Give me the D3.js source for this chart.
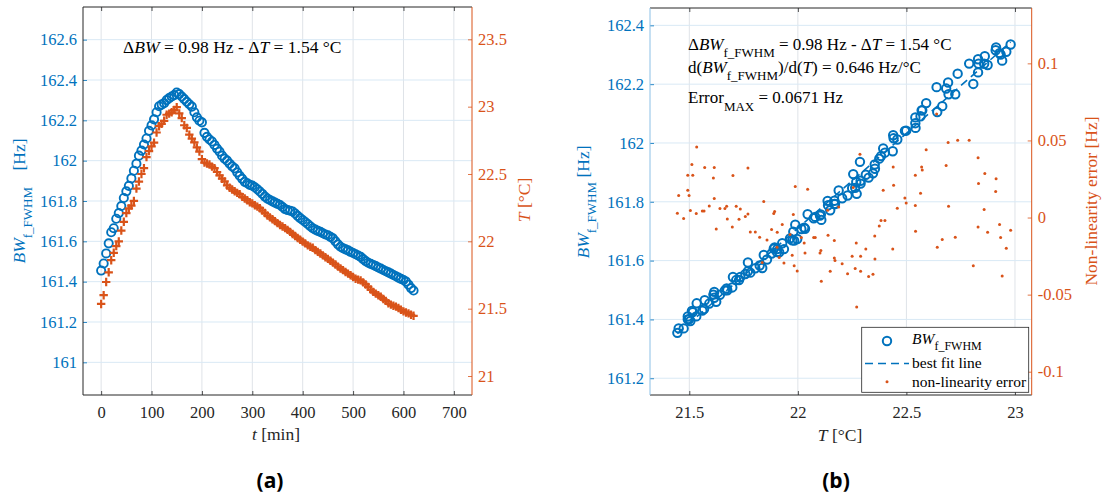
<!DOCTYPE html>
<html>
<head>
<meta charset="utf-8">
<script src="https://cdn.jsdelivr.net/npm/d3@7"></script>
<style>
  body { margin: 0; background: #fff; }
  svg { display: block; }
  text { white-space: pre; }
</style>
</head>
<body>
<svg id="fig" width="1102" height="500"></svg>
<script>
// ---------- measurement data (panel a: time series) ----------
const timeMin = [0,5,10,15,20,25,30,35,40,45,50,55,60,65,70,75,80,85,90,95,100,105,110,115,120,125,130,135,140,145,150,155,160,165,170,175,180,185,190,195,200,205,210,215,220,225,230,235,240,245,250,255,260,265,270,275,280,285,290,295,300,305,310,315,320,325,330,335,340,345,350,355,360,365,370,375,380,385,390,395,400,405,410,415,420,425,430,435,440,445,450,455,460,465,470,475,480,485,490,495,500,505,510,515,520,525,530,535,540,545,550,555,560,565,570,575,580,585,590,595,600,605,610,615,620];

const bwSeries = [161.455,161.490,161.540,161.590,161.645,161.665,161.712,161.740,161.775,161.815,
  161.848,161.875,161.912,161.950,161.985,162.025,162.050,162.080,162.110,162.148,
  162.175,162.205,162.240,162.270,162.278,162.285,162.300,162.310,162.318,162.325,
  162.338,162.330,162.318,162.305,162.292,162.280,162.268,162.240,162.215,162.198,
  162.190,162.138,162.118,162.105,162.095,162.078,162.060,162.045,162.025,162.010,
  162.000,161.985,161.972,161.962,161.942,161.925,161.910,161.895,161.888,161.880,
  161.876,161.868,161.858,161.847,161.835,161.822,161.812,161.805,161.798,161.792,
  161.786,161.780,161.770,161.760,161.755,161.752,161.748,161.738,161.726,161.715,
  161.706,161.696,161.686,161.675,161.665,161.658,161.652,161.647,161.640,161.634,
  161.630,161.622,161.615,161.600,161.585,161.573,161.566,161.560,161.555,161.548,
  161.542,161.536,161.530,161.523,161.512,161.502,161.494,161.488,161.483,161.477,
  161.470,161.465,161.458,161.452,161.446,161.440,161.433,161.427,161.420,161.414,
  161.408,161.400,161.385,161.368,161.356];

const tempSeries = [21.535,21.600,21.698,21.770,21.860,21.915,21.965,22.000,22.080,22.145,
  22.210,22.245,22.265,22.300,22.392,22.444,22.500,22.543,22.625,22.670,
  22.705,22.733,22.808,22.855,22.872,22.895,22.940,22.948,22.958,22.975,
  22.996,22.950,22.915,22.862,22.842,22.792,22.762,22.735,22.698,22.666,
  22.610,22.585,22.578,22.570,22.555,22.543,22.515,22.490,22.465,22.445,
  22.415,22.398,22.385,22.372,22.360,22.350,22.330,22.318,22.305,22.290,
  22.282,22.268,22.258,22.246,22.228,22.210,22.192,22.178,22.164,22.150,
  22.135,22.121,22.110,22.098,22.085,22.070,22.055,22.040,22.025,22.012,
  21.998,21.985,21.970,21.960,21.952,21.935,21.922,21.910,21.896,21.882,
  21.870,21.856,21.842,21.828,21.812,21.798,21.786,21.772,21.760,21.748,
  21.735,21.722,21.716,21.710,21.695,21.680,21.662,21.642,21.625,21.612,
  21.600,21.588,21.572,21.558,21.540,21.530,21.522,21.515,21.505,21.492,
  21.480,21.472,21.465,21.455,21.447];

// ---------- panel b: temperature vs. non-linearity error of the linear fit ----------
const errTemp = [21.451,21.445,21.474,21.493,21.493,21.499,21.505,21.512,21.516,21.532,
  21.534,21.560,21.568,21.571,21.592,21.611,21.615,21.615,21.624,21.641,
  21.664,21.672,21.675,21.698,21.701,21.716,21.729,21.735,21.758,21.770,
  21.770,21.781,21.804,21.824,21.836,21.843,21.858,21.879,21.889,21.893,
  21.904,21.905,21.914,21.928,21.936,21.964,21.974,21.979,21.983,21.988,
  21.997,22.016,22.029,22.033,22.045,22.073,22.080,22.102,22.106,22.108,
  22.137,22.139,22.149,22.168,22.168,22.171,22.188,22.204,22.229,22.250,
  22.255,22.264,22.269,22.271,22.286,22.289,22.289,22.313,22.326,22.346,
  22.354,22.355,22.375,22.383,22.393,22.401,22.437,22.439,22.441,22.458,
  22.493,22.499,22.541,22.541,22.542,22.565,22.570,22.573,22.591,22.639,
  22.642,22.665,22.683,22.692,22.694,22.725,22.736,22.789,22.808,22.830,
  22.830,22.832,22.858,22.861,22.874,22.911,22.913,22.929,22.934,22.941,
  22.960,22.980];

const errValue = [0.0143,0.0028,-0.0007,0.0275,0.0177,0.0143,0.0045,0.0344,0.0275,0.0026,
  0.0458,0.0043,0.0043,0.0325,0.0075,0.0257,0.0325,0.0123,-0.0074,0.0058,
  0.0058,0.0073,-0.0009,-0.0061,0.0273,0.0073,-0.0011,0.0056,0.0006,0.0322,
  0.0023,-0.0094,-0.0094,-0.0128,-0.0292,0.0104,-0.0145,-0.0078,0.0026,0.0039,
  -0.0193,-0.0095,-0.0260,-0.0045,-0.0295,-0.0110,-0.0245,0.0019,-0.0312,0.0201,
  -0.0347,-0.0130,-0.0165,-0.0230,0.0184,-0.0130,-0.0130,-0.0230,-0.0214,-0.0414,
  0.0047,-0.0115,-0.0349,-0.0149,-0.0262,-0.0279,0.0069,-0.0299,-0.0364,-0.0251,
  0.0195,-0.0331,-0.0165,-0.0580,0.0411,-0.0251,-0.0349,-0.0204,-0.0383,-0.0368,
  -0.0119,-0.0269,-0.0055,-0.0019,0.0177,-0.0019,-0.0204,0.0327,0.0210,0.0060,
  0.0127,0.0095,0.0275,0.0078,-0.0089,0.0158,0.0327,0.0309,0.0439,0.0671,
  -0.0193,-0.0143,0.0338,0.0487,0.0073,-0.0128,0.0502,0.0502,-0.0312,0.0387,
  -0.0061,0.0220,0.0052,0.0286,-0.0095,0.0169,0.0251,-0.0045,-0.0130,-0.0379,
  -0.0199,-0.0082];

// best fit line BW = slope * T + intercept
const fitSlope = 0.646;
const fitIntercept = 147.498;

// ---------- tick values ----------
const timeTicks = [0,100,200,300,400,500,600,700];
const bwTicksA = [161,161.2,161.4,161.6,161.8,162,162.2,162.4,162.6];
const tempTicksA = [21,21.5,22,22.5,23,23.5];
const tempTicksB = [21.5,22,22.5,23];
const bwTicksB = [161.2,161.4,161.6,161.8,162,162.2,162.4];
const errTicks = [-0.1,-0.05,0,0.05,0.1];

// ---------- styling ----------
const BLUE = "#0072BD", ORANGE = "#D95319", DARK = "#262626";
const GRID_V = "#dfe3e8", GRID_H = "#d9e9f5";
const SERIF = "'Liberation Serif', 'Times New Roman', serif";
const SANS = "'Open Sans', 'Liberation Sans', sans-serif";
const TICK_FS = 16.5, LABEL_FS = 17.5;
const fmt = d => String(+d.toFixed(3));

const svg = d3.select("#fig").style("font-family", SERIF);

function rich(textSel, parts, size, subSize, shift) {
  let lowered = false;
  textSel.style("font-family", SERIF);
  parts.forEach(p => {
    const ts = textSel.append("tspan").text(p.t);
    if (p.i) ts.attr("font-style", "italic");
    if (p.sub) {
      ts.attr("font-size", subSize);
      if (!lowered) { ts.attr("dy", shift); lowered = true; }
    } else {
      ts.attr("font-size", size);
      if (lowered) { ts.attr("dy", -shift); lowered = false; }
    }
    if (p.dx) ts.attr("dx", p.dx);
  });
  return textSel;
}

function grid(g, box, xs, xTicks, ys, yTicks) {
  g.append("g").selectAll("line").data(xTicks).join("line")
    .attr("x1", d => xs(d)).attr("x2", d => xs(d))
    .attr("y1", box.y0).attr("y2", box.y1)
    .attr("stroke", GRID_V).attr("stroke-width", 1);
  g.append("g").selectAll("line").data(yTicks).join("line")
    .attr("x1", box.x0).attr("x2", box.x1)
    .attr("y1", d => ys(d)).attr("y2", d => ys(d))
    .attr("stroke", GRID_H).attr("stroke-width", 1);
}

function axes(g, box, xs, xTicks, yl, ylTicks, yr, yrTicks, leftLine, leftTick) {
  const style = (sel, color) => {
    sel.select(".domain").remove();
    sel.attr("color", color).attr("font-family", null).attr("font-size", null);
    sel.selectAll("text").attr("font-size", TICK_FS).style("font-family", SERIF);
    sel.selectAll("line").attr("stroke-width", 0.8);
  };
  g.append("g").attr("transform", `translate(0,${box.y1})`)
    .call(d3.axisBottom(xs).tickValues(xTicks).tickFormat(fmt).tickSize(-4).tickPadding(11))
    .call(s => style(s, DARK));
  g.append("g").attr("transform", `translate(0,${box.y0})`)
    .call(d3.axisTop(xs).tickValues(xTicks).tickFormat("").tickSize(-4))
    .call(s => style(s, DARK));
  g.append("g").attr("transform", `translate(${box.x0},0)`)
    .call(d3.axisLeft(yl).tickValues(ylTicks).tickFormat(fmt).tickSize(-4).tickPadding(6))
    .call(s => style(s, BLUE))
    .call(s => s.selectAll("line").attr("stroke", leftTick));
  g.append("g").attr("transform", `translate(${box.x1},0)`)
    .call(d3.axisRight(yr).tickValues(yrTicks).tickFormat(fmt).tickSize(-4).tickPadding(6))
    .call(s => style(s, ORANGE));
  // frame
  const f = g.append("g").attr("fill", "none").attr("stroke-width", 1);
  f.append("line").attr("x1", box.x0).attr("x2", box.x1).attr("y1", box.y0).attr("y2", box.y0).attr("stroke", DARK);
  f.append("line").attr("x1", box.x0).attr("x2", box.x1).attr("y1", box.y1).attr("y2", box.y1).attr("stroke", DARK);
  f.append("line").attr("x1", box.x0).attr("x2", box.x0).attr("y1", box.y0).attr("y2", box.y1).attr("stroke", leftLine);
  f.append("line").attr("x1", box.x1).attr("x2", box.x1).attr("y1", box.y0).attr("y2", box.y1).attr("stroke", ORANGE);
}

const plusPath = "M-4.2,0H4.2M0,-4.2V4.2";

// =============== panel (a) ===============
const A = { x0: 83, x1: 472, y0: 7, y1: 395 };
const xA = d3.scaleLinear().domain([-36, 736]).range([A.x0, A.x1]);
const yAbw = d3.scaleLinear().domain([160.838, 162.762]).range([A.y1, A.y0]);
const yAT = d3.scaleLinear().domain([20.859, 23.74]).range([A.y1, A.y0]);

const gA = svg.append("g");
grid(gA, A, xA, timeTicks, yAbw, bwTicksA);

gA.append("g").selectAll("circle").data(timeMin).join("circle")
  .attr("cx", d => xA(d)).attr("cy", (d, i) => yAbw(bwSeries[i]))
  .attr("r", 4.1).attr("fill", "none").attr("stroke", BLUE).attr("stroke-width", 1.9);
gA.append("g").selectAll("path").data(timeMin).join("path")
  .attr("transform", (d, i) => `translate(${xA(d)},${yAT(tempSeries[i])})`)
  .attr("d", plusPath).attr("stroke", ORANGE).attr("stroke-width", 2.2).attr("fill", "none");

axes(gA, A, xA, timeTicks, yAbw, bwTicksA, yAT, tempTicksA, DARK, BLUE);

rich(gA.append("text").attr("x", 123).attr("y", 52.5).attr("fill", "#000"),
  [{ t: "Δ" }, { t: "BW", i: true }, { t: " = 0.98 Hz - Δ" }, { t: "T", i: true }, { t: " = 1.54 °C" }],
  17.5, 13, 6);

rich(gA.append("text").attr("transform", "translate(25,201) rotate(-90)")
  .attr("text-anchor", "middle").attr("fill", BLUE),
  [{ t: "BW", i: true }, { t: "f_FWHM", sub: true }, { t: " [Hz]", dx: 12 }], LABEL_FS, 13, 7);

rich(gA.append("text").attr("transform", "translate(530,200) rotate(-90)")
  .attr("text-anchor", "middle").attr("fill", ORANGE),
  [{ t: "T", i: true }, { t: " [°C]" }], LABEL_FS, 13, 7);

rich(gA.append("text").attr("x", 276).attr("y", 440).attr("text-anchor", "middle").attr("fill", DARK),
  [{ t: "t", i: true }, { t: " [min]" }], LABEL_FS, 13, 7);

// =============== panel (b) ===============
const B = { x0: 650, x1: 1031.7, y0: 8, y1: 395 };
const xB = d3.scaleLinear().domain([21.319, 23.077]).range([B.x0, B.x1]);
const yBbw = d3.scaleLinear().domain([161.143, 162.459]).range([B.y1, B.y0]);
const yBerr = d3.scaleLinear().domain([-0.1151, 0.1359]).range([B.y1, B.y0]);

const gB = svg.append("g");
grid(gB, B, xB, tempTicksB, yBbw, bwTicksB);

const fitAt = T => fitSlope * T + fitIntercept;

gB.append("g").selectAll("circle").data(errTemp).join("circle")
  .attr("cx", d => xB(d)).attr("cy", (d, i) => yBbw(fitAt(d) + errValue[i]))
  .attr("r", 4.2).attr("fill", "none").attr("stroke", BLUE).attr("stroke-width", 2);

const tExt = d3.extent(errTemp);
gB.append("line")
  .attr("x1", xB(tExt[0])).attr("y1", yBbw(fitAt(tExt[0])))
  .attr("x2", xB(tExt[1])).attr("y2", yBbw(fitAt(tExt[1])))
  .attr("stroke", BLUE).attr("stroke-width", 1.6).attr("stroke-dasharray", "8,5");

gB.append("g").selectAll("circle").data(errTemp).join("circle")
  .attr("cx", d => xB(d)).attr("cy", (d, i) => yBerr(errValue[i]))
  .attr("r", 1.5).attr("fill", ORANGE);

axes(gB, B, xB, tempTicksB, yBbw, bwTicksB, yBerr, errTicks, "#8cc0e6", BLUE);

rich(gB.append("text").attr("x", 688).attr("y", 49.5).attr("fill", "#000"),
  [{ t: "Δ" }, { t: "BW", i: true }, { t: "f_FWHM", sub: true }, { t: " = 0.98 Hz - Δ" }, { t: "T", i: true }, { t: " = 1.54 °C" }],
  17, 13, 7.5);
rich(gB.append("text").attr("x", 688).attr("y", 72.5).attr("fill", "#000"),
  [{ t: "d(" }, { t: "BW", i: true }, { t: "f_FWHM", sub: true }, { t: ")/d(" }, { t: "T", i: true }, { t: ") = 0.646 Hz/°C" }],
  17, 13, 7.5);
rich(gB.append("text").attr("x", 688).attr("y", 103).attr("fill", "#000"),
  [{ t: "Error" }, { t: "MAX", sub: true }, { t: " = 0.0671 Hz" }],
  17, 13, 7.5);

rich(gB.append("text").attr("transform", "translate(589,202) rotate(-90)")
  .attr("text-anchor", "middle").attr("fill", BLUE),
  [{ t: "BW", i: true }, { t: "f_FWHM", sub: true }, { t: " [Hz]" }], LABEL_FS, 13, 7);

gB.append("text").attr("transform", "translate(1097,201) rotate(-90)")
  .attr("text-anchor", "middle").attr("fill", ORANGE).attr("font-size", LABEL_FS)
  .style("font-family", SERIF)
  .text("Non-linearity error [Hz]");

rich(gB.append("text").attr("x", 840).attr("y", 441).attr("text-anchor", "middle").attr("fill", DARK),
  [{ t: "T", i: true }, { t: " [°C]" }], LABEL_FS, 13, 7);

// legend
const L = { x: 861.7, y: 327.3, w: 167, h: 65 };
const gL = gB.append("g");
gL.append("rect").attr("x", L.x).attr("y", L.y).attr("width", L.w).attr("height", L.h)
  .attr("fill", "#fff").attr("stroke", DARK).attr("stroke-width", 0.8);
gL.append("circle").attr("cx", 887).attr("cy", 341).attr("r", 4.2)
  .attr("fill", "none").attr("stroke", BLUE).attr("stroke-width", 2);
gL.append("line").attr("x1", 865).attr("x2", 909).attr("y1", 363.5).attr("y2", 363.5)
  .attr("stroke", BLUE).attr("stroke-width", 1.6).attr("stroke-dasharray", "8,5");
gL.append("circle").attr("cx", 887).attr("cy", 381.7).attr("r", 1.5).attr("fill", ORANGE);
rich(gL.append("text").attr("x", 912).attr("y", 343.5).attr("fill", "#000"),
  [{ t: "BW", i: true }, { t: "f_FWHM", sub: true }], 15.5, 12, 6.5);
gL.append("text").attr("x", 912).attr("y", 368).attr("font-size", 15.5).style("font-family", SERIF).text("best fit line");
gL.append("text").attr("x", 912).attr("y", 387).attr("font-size", 15.5).style("font-family", SERIF).text("non-linearity error");

// panel captions
svg.append("text").attr("x", 270).attr("y", 488).attr("text-anchor", "middle")
  .style("font-family", SANS).attr("font-weight", 700)
  .attr("font-size", 21).attr("fill", "#000").text("(a)");
svg.append("text").attr("x", 836).attr("y", 488).attr("text-anchor", "middle")
  .style("font-family", SANS).attr("font-weight", 700)
  .attr("font-size", 21).attr("fill", "#000").text("(b)");
</script>
</body>
</html>
